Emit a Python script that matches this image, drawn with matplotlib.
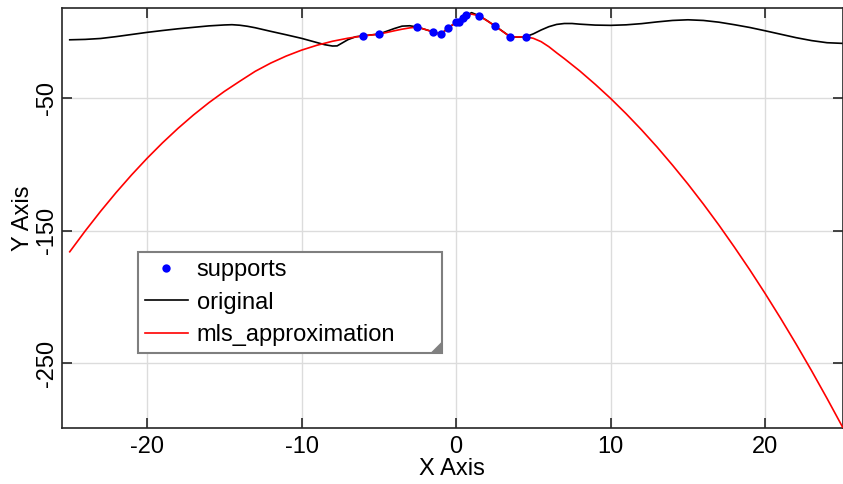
import matplotlib
matplotlib.use("Agg")
import matplotlib.pyplot as plt
from matplotlib.patches import Polygon

plt.rcParams["font.family"] = ["Liberation Sans", "DejaVu Sans"]

# support points
sup_x = [-6.0, -5.0, -2.5, -1.5, -1.0, -0.5, 0.0, 0.2, 0.45, 0.65, 1.5, 2.5, 3.5, 4.5]
sup_y = [-3.0, -1.7, 3.6, 0.0, -1.9, 3.1, 7.1, 7.6, 10.2, 12.6, 12.1, 4.6, -3.7, -3.7]

# original function
orig_x = [-25, -24, -23, -22, -21, -20, -19, -18, -17, -16, -15, -14.5, -14, -13.5, -13,
          -12, -11, -10, -9, -8.5, -8, -7.7, -7.4, -7, -6.5, -6, -5.5, -5, -4,
          -3.5, -3, -2.5, -2, -1.5, -1, -0.5, 0, 0.25, 0.5, 0.75, 1.0, 1.5, 2,
          2.5, 3, 3.5, 4, 4.5, 5, 5.5, 6, 6.5, 7, 7.5, 8, 9, 10, 11, 12, 13, 14,
          15, 16, 17, 18, 19, 20, 21, 22, 23, 24, 25]
orig_y = [-6.0, -5.7, -5.0, -3.6, -2.0, -0.4, 1.0, 2.3, 3.4, 4.5, 5.2, 5.4, 5.0, 4.2, 3.1,
          0.4, -2.2, -4.9, -8.1, -9.7, -10.7, -10.6, -8.6, -5.9, -3.7, -3.0, -2.3, -1.7, 2.5,
          4.3, 4.6, 3.6, 1.8, 0.0, -1.9, 3.1, 7.1, 7.8, 10.2, 12.8, 14.5, 12.1, 8.5,
          4.6, 0.5, -3.7, -4.0, -3.7, -1.5, 1.4, 3.9, 5.6, 6.3, 6.3, 5.8, 5.1, 4.9, 5.3, 6.2, 7.5, 8.6,
          9.1, 8.6, 7.3, 5.4, 3.3, 0.8, -1.8, -4.4, -6.6, -8.2, -8.7]

# mls approximation
mls_x = [-25, -24, -23, -22, -21, -20, -19, -18, -17, -16, -15, -14, -13, -12, -11,
         -10, -9, -8, -7, -6, -5.5, -5, -4.5, -4, -3.5, -3, -2.5, -2, -1.5, -1,
         -0.5, 0, 0.25, 0.5, 0.75, 1.0, 1.5, 2, 2.5, 3, 3.5, 4, 4.5, 5, 5.5, 6,
         6.5, 7, 8, 9, 10, 11, 12, 13, 14, 15, 16, 17, 18, 19, 20, 21, 22, 23, 24, 25]
mls_y = [-166, -150.3, -135.4, -121.3, -108.0, -95.5, -83.8, -72.9, -62.8, -53.5, -45.0, -37.3,
         -29.8, -23.6, -18.3, -13.8, -10.1, -7.1, -4.8, -3.0, -2.4, -1.7, -0.5, 0.8, 2.0, 3.0,
         3.6, 1.8, 0.0, -1.9, 3.1, 7.1, 7.7, 10.2, 12.6, 13.4, 12.1, 8.4, 4.6, 0.4, -3.7, -3.9,
         -3.7, -4.9, -7.4, -11.2, -15.8, -20.2, -29.5, -39.6, -50.3, -61.8, -74.0, -86.9, -100.6,
         -114.9, -130.0, -145.8, -162.4, -179.6, -197.6, -216.3, -235.7, -255.8, -276.7, -298.2]

xticks = [-20, -10, 0, 10, 20]
yticks = [-250, -150, -50]

W, H = 843, 484
fig = plt.figure(figsize=(W / 100, H / 100), dpi=100)
ax = fig.add_axes([62 / W, (H - 428) / H, (842.5 - 62) / W, (428 - 8) / H])

ax.plot(sup_x, sup_y, "o", color="#0000ff", markersize=6, markeredgewidth=0,
        label="supports", zorder=4)
ax.plot(orig_x, orig_y, color="black", linewidth=1.2, label="original", zorder=2)
ax.plot(mls_x, mls_y, color="#ff0000", linewidth=1.2, label="mls_approximation", zorder=3)

ax.set_xlim(-25.5, 25.0)
ax.set_ylim(-299, 18)
ax.set_xticks(xticks)
ax.set_yticks(yticks)
ax.set_xticklabels([str(t) for t in xticks])
ax.set_yticklabels([str(t) for t in yticks], rotation=90, va="center")
ax.grid(True, color="#dcdcdc", linewidth=1.0)
ax.set_axisbelow(True)
ax.tick_params(direction="in", top=True, right=True, length=7, width=1.2,
               color="#262626", labelsize=17, labelcolor="black")
ax.tick_params(axis="x", pad=6)
ax.tick_params(axis="y", pad=3)
for s in ax.spines.values():
    s.set_color("#262626")
    s.set_linewidth(1.2)

ax.set_xlabel("X Axis", fontsize=17, labelpad=0)
ax.set_ylabel("Y Axis", fontsize=17, labelpad=1.5)

lx0 = (138 - 62) / (842.5 - 62)
ly1 = (428 - 252) / 420
lw = (442 - 138) / (842.5 - 62)
lh = 100 / 420
leg = ax.legend(loc="upper left", bbox_to_anchor=(lx0, ly1 - lh, lw, lh), mode="expand",
                borderaxespad=0, fancybox=False, framealpha=1, fontsize=17,
                handlelength=1.8, handletextpad=0.38, labelspacing=0.45, numpoints=1,
                borderpad=0.3)
leg.get_frame().set_edgecolor("#7f7f7f")
leg.get_frame().set_linewidth(1.5)

fig.canvas.draw()
bb = leg.get_window_extent()
inv = fig.transFigure.inverted()
s = 12
pts = [(bb.x1, bb.y0), (bb.x1, bb.y0 + s), (bb.x1 - s, bb.y0)]
tri = Polygon([inv.transform(p) for p in pts], closed=True, transform=fig.transFigure,
              facecolor="#808080", edgecolor="none", zorder=10)
fig.patches.append(tri)

fig.savefig("out.png", dpi=100)
